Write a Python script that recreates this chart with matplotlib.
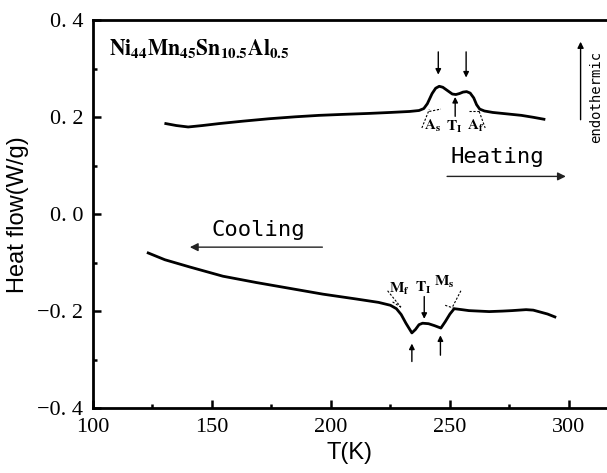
import matplotlib
matplotlib.use("Agg")
import matplotlib.pyplot as plt

plt.rcParams["font.family"] = "Liberation Serif"
plt.rcParams["mathtext.fontset"] = "stix"

# ---- data ---------------------------------------------------
heating_T = [130.6, 135, 140, 146, 153, 163, 174, 185, 195, 205, 216, 225,
             233, 237, 239, 240.5, 242.5, 244, 245.5, 247, 249, 251, 252.5,
             254, 255.5, 257, 258.5, 260, 261.2, 262.5, 264.5, 268, 274,
             280, 285, 289.5]
heating_hf = [0.187, 0.183, 0.180, 0.183, 0.187, 0.192, 0.197, 0.201, 0.204,
              0.206, 0.208, 0.210, 0.212, 0.214, 0.218, 0.228, 0.249, 0.260,
              0.264, 0.262, 0.255, 0.248, 0.247, 0.249, 0.252, 0.253, 0.250,
              0.240, 0.226, 0.217, 0.213, 0.210, 0.207, 0.204, 0.200, 0.196]

cooling_T = [123.2, 130.2, 140.7, 154.6, 168.6, 182.6, 196.6, 210.6, 220,
             225, 227.5, 229.5, 231.5, 234, 235.5, 237, 238.5, 241, 243.5,
             246.2, 248, 250, 251.8, 255, 258, 266.5, 272, 276, 282, 285,
             288, 291, 294.1]
cooling_hf = [-0.080, -0.094, -0.109, -0.128, -0.141, -0.153, -0.165, -0.175,
              -0.182, -0.188, -0.195, -0.207, -0.225, -0.245, -0.238, -0.228,
              -0.225, -0.226, -0.230, -0.235, -0.222, -0.206, -0.195, -0.197,
              -0.199, -0.201, -0.200, -0.199, -0.197, -0.198, -0.202, -0.206,
              -0.212]

x_ticks = [100, 150, 200, 250, 300]
y_ticks = [-0.4, -0.2, 0.0, 0.2, 0.4]
y_tick_labels = ["\u22120. 4", "\u22120. 2", "0. 0", "0. 2", "0. 4"]

# tangent constructions (dashed) : (T0, T1, hf0, hf1)
tangents = [
    (238.2, 241.3, 0.178, 0.216), (241.3, 246.2, 0.212, 0.217),
    (258.1, 262.3, 0.212, 0.212), (262.3, 264.8, 0.212, 0.178),
    (223.8, 229.4, -0.158, -0.192), (225.9, 229.4, -0.181, -0.192),
    (254.6, 250.8, -0.158, -0.194), (248.0, 252.2, -0.188, -0.195),
]

# small marker arrows : (T, tail, head)
peak_arrows = [
    (245.1, 0.335, 0.288), (256.8, 0.335, 0.282), (252.2, 0.202, 0.242),
    (234.0, -0.304, -0.267), (246.0, -0.291, -0.250), (239.2, -0.170, -0.216),
]

# ---- figure --------------------------------------------------
fig = plt.figure(figsize=(6.07, 4.73), dpi=100)
ax = fig.add_axes([0.1532, 0.1374, 0.8468, 0.8195])

ax.plot(heating_T, heating_hf, color="black", lw=2.0, solid_joinstyle="round")
ax.plot(cooling_T, cooling_hf, color="black", lw=2.0, solid_joinstyle="round")

for t0, t1, h0, h1 in tangents:
    ax.plot([t0, t1], [h0, h1], color="black", lw=0.8, ls=(0, (2, 1.5)))

for t, tail, head in peak_arrows:
    ax.annotate("", xy=(t, head), xytext=(t, tail),
                arrowprops=dict(arrowstyle="-|>", color="black", lw=1.0,
                                mutation_scale=8, shrinkA=0, shrinkB=0))

# labels of the characteristic temperatures
lab = dict(fontsize=11, ha="center", va="center")
ax.text(242.6, 0.183, r"$\mathbf{A_s}$", **lab)
ax.text(252.0, 0.181, r"$\mathbf{T_I}$", **lab)
ax.text(260.8, 0.183, r"$\mathbf{A_f}$", **lab)
ax.text(228.7, -0.154, r"$\mathbf{M_f}$", **lab)
ax.text(238.9, -0.153, r"$\mathbf{T_I}$", **lab)
ax.text(247.5, -0.139, r"$\mathbf{M_s}$", **lab)

# heating / cooling direction arrows
ax.annotate("", xy=(298.7, 0.078), xytext=(248.8, 0.078),
            arrowprops=dict(arrowstyle="-|>", color="#222222", lw=1.0,
                            mutation_scale=12, shrinkA=0, shrinkB=0))
ax.text(269.8, 0.119, "Heating", family="DejaVu Sans Mono", fontsize=16,
        ha="center", va="center")
ax.annotate("", xy=(140.7, -0.068), xytext=(196.4, -0.068),
            arrowprops=dict(arrowstyle="-|>", color="#222222", lw=1.0,
                            mutation_scale=12, shrinkA=0, shrinkB=0))
ax.text(169.6, -0.033, "Cooling", family="DejaVu Sans Mono", fontsize=16,
        ha="center", va="center")

# endothermic direction
ax.annotate("", xy=(304.9, 0.356), xytext=(304.9, 0.195),
            arrowprops=dict(arrowstyle="-|>", color="black", lw=1.0,
                            mutation_scale=9, shrinkA=0, shrinkB=0))
ax.text(311.3, 0.241, "endothermic", family="DejaVu Sans Mono", fontsize=10,
        rotation=90, ha="center", va="center")

ax.text(0.032, 0.955, r"$\mathbf{Ni_{44}Mn_{45}Sn_{10.5}Al_{0.5}}$",
        transform=ax.transAxes, fontsize=15.5, ha="left", va="top")

# ---- axes ----------------------------------------------------
ax.set_xlim(100, 316)
ax.set_ylim(-0.4, 0.4)
ax.set_xticks(x_ticks)
ax.set_xticks([125, 175, 225, 275], minor=True)
ax.set_yticks(y_ticks)
ax.set_yticklabels(y_tick_labels)
ax.set_yticks([-0.3, -0.1, 0.1, 0.3], minor=True)
ax.tick_params(which="both", direction="in", width=1.8, labelsize=16,
               right=False, top=False)
ax.tick_params(which="major", length=6, pad=7)
ax.tick_params(which="minor", length=3)
for side in ("left", "bottom", "top"):
    ax.spines[side].set_linewidth(2.0)
ax.spines["right"].set_visible(False)

ax.set_xlabel("T(K)", family="Liberation Sans", fontsize=17, labelpad=4)
ax.set_ylabel("Heat flow(W/g)", family="Liberation Sans", fontsize=17,
              labelpad=6)

plt.savefig("out.png", dpi=100)
